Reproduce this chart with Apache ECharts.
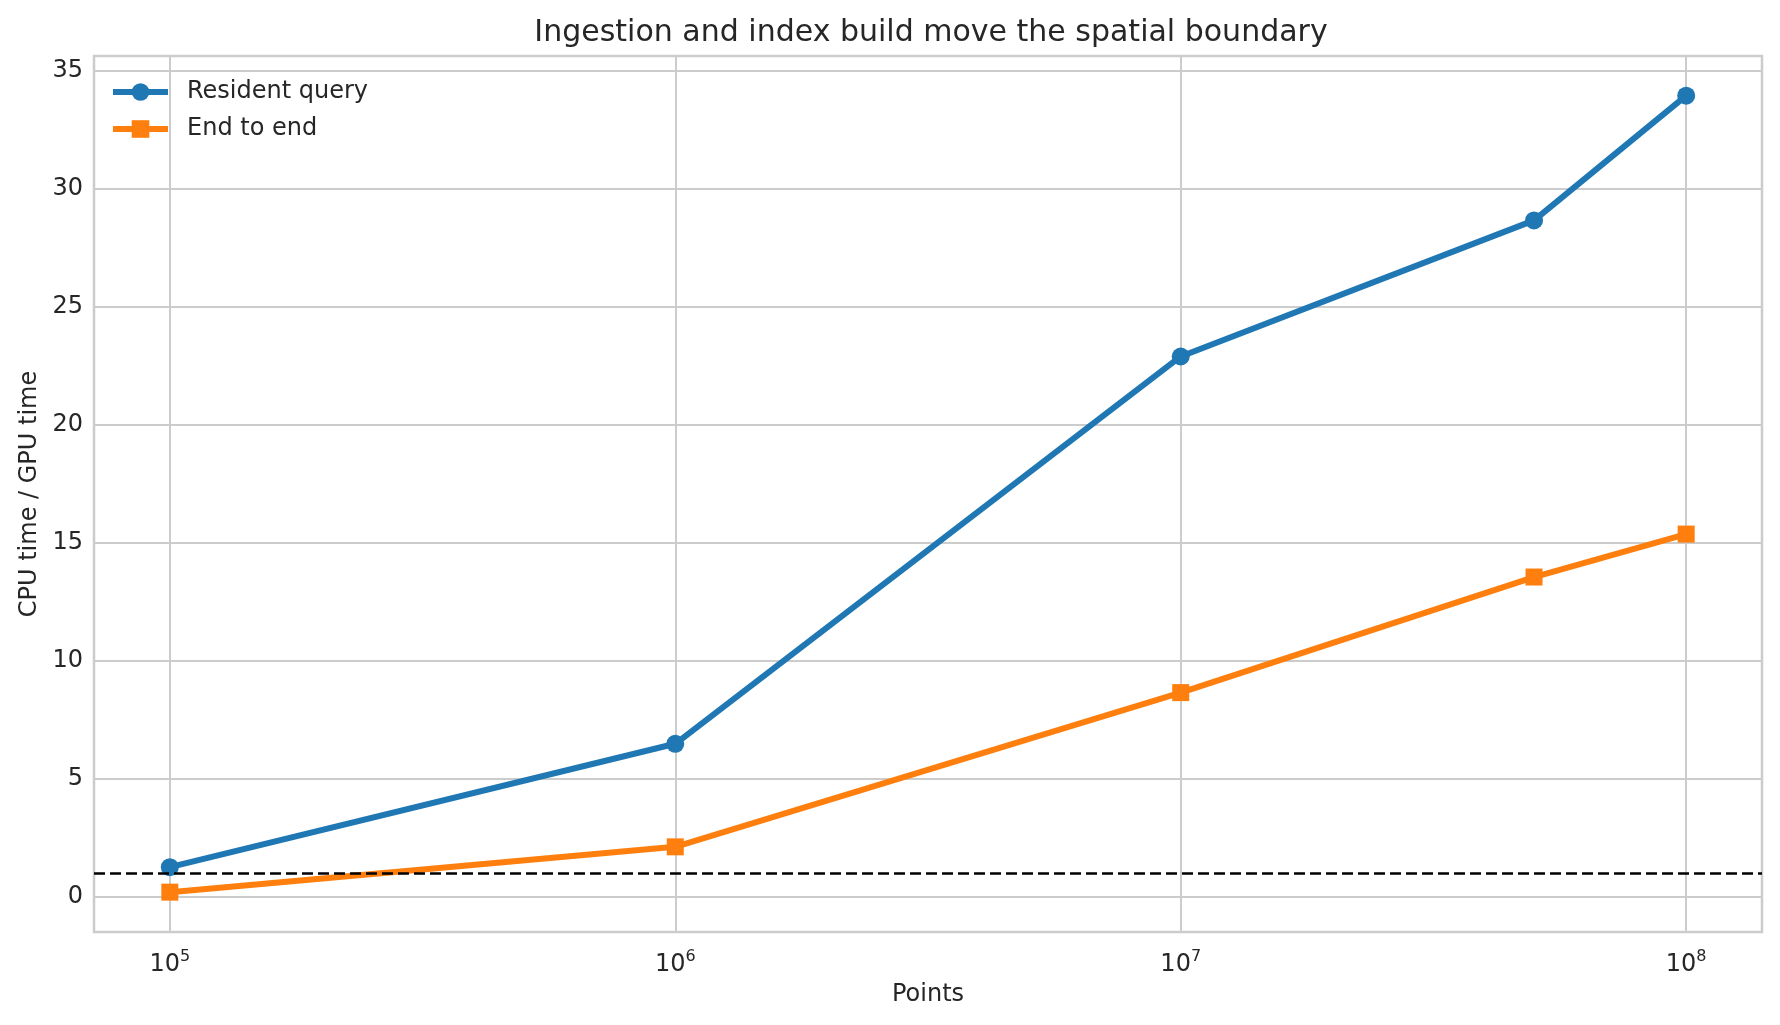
<!DOCTYPE html>
<html>
<head>
<meta charset="utf-8">
<script src="https://cdn.jsdelivr.net/npm/echarts@6/dist/echarts.min.js"></script>
<style>
  html, body { margin: 0; padding: 0; background: #fff; }
  #chart { width: 1780px; height: 1025px; }
</style>
</head>
<body>
<div id="chart"></div>
<script>
// data
const points = [1e5, 1e6, 1e7, 5e7, 1e8];
const residentQuery = [1.25, 6.48, 22.9, 28.67, 33.96];
const endToEnd = [0.19, 2.11, 8.65, 13.55, 15.37];
const breakEven = 1;
const xTicks = [1e5, 1e6, 1e7, 1e8];
const yTicks = [0, 5, 10, 15, 20, 25, 30, 35];

const textColor = '#262626';
const gridColor = '#cccccc';
const font = 'DejaVu Sans';

const chart = echarts.init(document.getElementById('chart'));

const option = {
  backgroundColor: '#ffffff',
  animation: false,
  textStyle: { fontFamily: font, color: textColor },
  title: {
    text: 'Ingestion and index build move the spatial boundary',
    left: 926,
    textAlign: 'center',
    top: 13,
    textStyle: { fontFamily: font, fontSize: 30, fontWeight: 'normal', color: textColor, lineHeight: 30 }
  },
  grid: {
    left: 94, right: 18, top: 56, bottom: 93,
    show: true, borderColor: gridColor, borderWidth: 2.5,
    containLabel: false
  },
  legend: {
    left: 105, top: 73,
    orient: 'vertical',
    itemWidth: 55, itemHeight: 22, itemGap: 9,
    textStyle: { fontFamily: font, fontSize: 24, color: textColor, lineHeight: 28, padding: [0, 0, 0, 14] },
    data: [
      { name: 'Resident query', lineStyle: { width: 6, color: '#1f77b4' } },
      { name: 'End to end', lineStyle: { width: 6, color: '#ff7f0e' } }
    ]
  },
  xAxis: {
    type: 'log',
    logBase: 10,
    min: Math.pow(10, 4.85),
    max: Math.pow(10, 8.15),
    name: 'Points',
    nameLocation: 'middle',
    nameGap: 51,
    nameTextStyle: { fontFamily: font, fontSize: 24, color: textColor },
    axisLine: { show: false },
    axisTick: { show: false, customValues: xTicks },
    splitLine: { show: true, lineStyle: { color: gridColor, width: 2 } },
    axisLabel: {
      customValues: xTicks,
      margin: 17,
      formatter: function (v) {
        const e = Math.round(Math.log10(v));
        return '{b|10}{e|' + e + '}';
      },
      rich: {
        b: { fontFamily: font, fontSize: 24, lineHeight: 28, verticalAlign: 'bottom', color: textColor },
        e: { fontFamily: font, fontSize: 16, lineHeight: 16, verticalAlign: 'top', color: textColor }
      }
    }
  },
  yAxis: {
    type: 'value',
    min: -1.5,
    max: 35.64,
    name: 'CPU time / GPU time',
    nameLocation: 'middle',
    nameGap: 50,
    nameTextStyle: { fontFamily: font, fontSize: 24, color: textColor },
    axisLine: { show: false },
    axisTick: { show: false, customValues: yTicks },
    splitLine: { show: true, lineStyle: { color: gridColor, width: 2 } },
    axisLabel: {
      customValues: yTicks,
      margin: 11,
      padding: [4, 0, 0, 0],
      fontFamily: font, fontSize: 24, color: textColor
    }
  },
  series: [
    {
      name: 'Resident query',
      type: 'line',
      data: points.map((p, i) => [p, residentQuery[i]]),
      symbol: 'circle',
      symbolSize: 18,
      lineStyle: { color: '#1f77b4', width: 6 },
      itemStyle: { color: '#1f77b4' },
      z: 3
    },
    {
      name: 'End to end',
      type: 'line',
      data: points.map((p, i) => [p, endToEnd[i]]),
      symbol: 'rect',
      symbolSize: 17,
      lineStyle: { color: '#ff7f0e', width: 6 },
      itemStyle: { color: '#ff7f0e' },
      z: 4,
      markLine: {
        silent: true,
        symbol: 'none',
        label: { show: false },
        lineStyle: { color: '#000000', width: 2.5, type: [11, 5] },
        data: [{ yAxis: breakEven }]
      }
    }
  ]
};

chart.setOption(option);
</script>
</body>
</html>
